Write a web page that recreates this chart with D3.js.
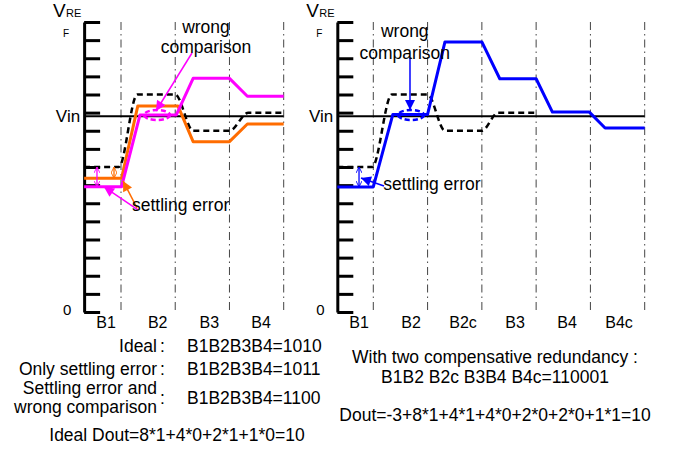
<!DOCTYPE html>
<html lang="en">
<head>
<meta charset="utf-8">
<script src="https://cdn.jsdelivr.net/npm/d3@7"></script>
<style>
body { margin: 0; background: #fff; }
text { font-family: "Liberation Sans", Arial, sans-serif; fill: #000; }
</style>
</head>
<body>
<svg width="673" height="452"></svg>
<script>
// levels are in LSB units (0 .. F=16), time in bit cycles (divider k sits at t = k)
var vin = 10.8;
var yTicks = [0, 1, 2, 3, 4, 5, 6, 7, 8, 9, 10, 11, 12, 13, 14, 15, 16];
var leftBits = ["B1", "B2", "B3", "B4"];
var rightBits = ["B1", "B2", "B2c", "B3", "B4", "B4c"];

var leftIdeal = [[0.32, 8], [0.96, 8], [1.3, 12], [2.0, 12], [2.33, 10], [3.0, 10], [3.35, 11], [4.0, 11]];
var leftSettle = [[0.32, 7.38], [1.01, 7.38], [1.31, 11.37], [2.05, 11.37], [2.33, 9.4], [3.0, 9.4], [3.33, 10.37], [4.0, 10.37]];
var leftWrong = [[0.32, 6.91], [1.01, 6.91], [1.35, 10.87], [2.02, 10.87], [2.33, 12.89], [3.0, 12.89], [3.33, 11.9], [4.0, 11.9]];

var rightIdeal = [[0.337, 8], [0.98, 8], [1.34, 12], [2.0, 12], [2.32, 10], [3.0, 10], [3.3, 11], [4.0, 11]];
var rightRedund = [[0.337, 6.9], [1.0, 6.9], [1.36, 10.9], [2.0, 10.9], [2.32, 14.9], [3.0, 14.9], [3.33, 12.87], [4.0, 12.87],
                   [4.3, 11.03], [4.98, 11.03], [5.27, 10.15], [6.0, 10.15]];

var leftCodes = [["Ideal", "B1B2B3B4=1010"], ["Only settling error", "B1B2B3B4=1011"], ["Settling error and|wrong comparison", "B1B2B3B4=1100"]];
var leftDout = "Ideal Dout=8*1+4*0+2*1+1*0=10";
var rightLines = ["With two compensative redundancy :", "B1B2 B2c B3B4 B4c=110001", "Dout=-3+8*1+4*1+4*0+2*0+2*0+1*1=10"];

var orange = "#ff6c00", magenta = "#ff00ff", blue = "#0000ff";

var svg = d3.select("svg");
var y = d3.scaleLinear().domain([0, 16]).range([312, 22]);

var defs = svg.append("defs");
[["orange", orange], ["magenta", magenta], ["blue", blue]].forEach(function (c) {
  defs.append("marker").attr("id", "tri-" + c[0])
    .attr("viewBox", "0 0 10 10").attr("refX", 10).attr("refY", 5)
    .attr("markerUnits", "userSpaceOnUse").attr("markerWidth", 12).attr("markerHeight", 10)
    .attr("orient", "auto")
    .append("path").attr("d", "M0,0L10,5L0,10z").attr("fill", c[1]);
  defs.append("marker").attr("id", "open-" + c[0])
    .attr("viewBox", "0 0 10 10").attr("refX", 10).attr("refY", 5)
    .attr("markerUnits", "userSpaceOnUse").attr("markerWidth", 6).attr("markerHeight", 6)
    .attr("orient", "auto-start-reverse")
    .append("path").attr("d", "M0,0L10,5L0,10").attr("fill", "none").attr("stroke", c[1]).attr("stroke-width", 1.5);
});

function drawPanel(p) {
  var n = p.bits.length;
  var x = d3.scaleLinear().domain([1, n]).range(p.xr);
  var ax = x(p.t0);
  var g = svg.append("g");
  var dividers = p.bits.map(function (b, i) { return i + 1; });

  g.selectAll(".divider").data(dividers).enter().append("line")
    .attr("class", "divider")
    .attr("x1", function (d) { return x(d); }).attr("x2", function (d) { return x(d); })
    .attr("y1", y(16)).attr("y2", y(0))
    .attr("stroke", "#444").attr("stroke-width", 1)
    .attr("stroke-dasharray", "8,4,1.5,4");

  g.append("line")
    .attr("x1", ax).attr("x2", x(n))
    .attr("y1", y(vin)).attr("y2", y(vin))
    .attr("stroke", "#000").attr("stroke-width", 2);

  var axis = g.append("g")
    .attr("transform", "translate(" + ax + ",0)")
    .call(d3.axisRight(y).tickValues(yTicks).tickSize(16).tickSizeOuter(0).tickFormat(""));
  axis.selectAll("line, path").attr("stroke", "#000").attr("stroke-width", 3);

  var straight = d3.line().x(function (d) { return x(d[0]); }).y(function (d) { return y(d[1]); });
  var smooth = d3.line().x(function (d) { return x(d[0]); }).y(function (d) { return y(d[1]); }).curve(d3.curveMonotoneX);

  g.append("path").attr("d", smooth(p.ideal))
    .attr("fill", "none").attr("stroke", "#000").attr("stroke-width", 2.5).attr("stroke-dasharray", "6,4");

  p.series.forEach(function (s) {
    g.append("path").attr("d", straight(s.data))
      .attr("fill", "none").attr("stroke", s.color).attr("stroke-width", 3).attr("stroke-linejoin", "round");
  });

  // highlight of the wrong comparison
  g.append("ellipse")
    .attr("cx", x(p.oval[0])).attr("cy", y(p.oval[1])).attr("rx", 13).attr("ry", 5)
    .attr("fill", "none").attr("stroke", p.ovalColor).attr("stroke-width", 2.5).attr("stroke-dasharray", "5,3");

  p.arrows.forEach(function (a) {
    g.append("line")
      .attr("x1", x(a.from[0])).attr("y1", y(a.from[1]))
      .attr("x2", x(a.to[0])).attr("y2", y(a.to[1]))
      .attr("stroke", a.color).attr("stroke-width", 1.5)
      .attr("marker-end", "url(#tri-" + a.name + ")");
  });

  p.spans.forEach(function (s) {
    g.append("line")
      .attr("x1", x(s.t)).attr("x2", x(s.t))
      .attr("y1", y(s.v0)).attr("y2", y(s.v1))
      .attr("stroke", s.color).attr("stroke-width", 1.3)
      .attr("marker-start", "url(#open-" + s.name + ")")
      .attr("marker-end", "url(#open-" + s.name + ")");
  });

  p.notes.forEach(function (t) {
    g.append("text").attr("x", x(t.t)).attr("y", y(t.v))
      .attr("text-anchor", t.anchor).style("font-size", "17.5px").text(t.text);
  });

  // bit labels under the axis
  var bx = d3.scalePoint().domain(p.bits).range(p.labelRange);
  g.selectAll(".bit").data(p.bits).enter().append("text")
    .attr("class", "bit")
    .attr("x", function (d) { return bx(d); }).attr("y", 328)
    .attr("text-anchor", "middle").style("font-size", "16px")
    .text(function (d) { return d; });

  // y axis labels
  g.append("text").attr("x", ax - 31).attr("y", 16.5).style("font-size", "19px").text("V");
  g.append("text").attr("x", ax - 18).attr("y", 16.5).style("font-size", "11px").text("RE");
  g.append("text").attr("x", ax - 21).attr("y", 37).style("font-size", "10px").text("F");
  g.append("text").attr("x", ax - 4).attr("y", y(vin) + 5.5).attr("text-anchor", "end").style("font-size", "17px").text("Vin");
  g.append("text").attr("x", ax - 21).attr("y", 315).style("font-size", "15px").text("0");
}

drawPanel({
  bits: leftBits, xr: [121, 283.7], t0: 0.32, labelRange: [106, 261],
  ideal: leftIdeal,
  series: [{ data: leftSettle, color: orange }, { data: leftWrong, color: magenta }],
  oval: [1.664, 10.87], ovalColor: magenta,
  arrows: [
    { from: [2.309, 14.29], to: [1.645, 11.09], color: magenta, name: "magenta" },
    { from: [1.313, 5.63], to: [0.687, 6.9], color: magenta, name: "magenta" },
    { from: [1.295, 5.74], to: [1.037, 7.23], color: orange, name: "orange" }
  ],
  spans: [
    { t: 0.557, v0: 8, v1: 6.91, color: magenta, name: "magenta" },
    { t: 0.871, v0: 8, v1: 7.38, color: orange, name: "orange" }
  ],
  notes: [
    { t: 2.567, v: 15.39, text: "wrong", anchor: "middle" },
    { t: 2.567, v: 14.27, text: "comparison", anchor: "middle" },
    { t: 1.203, v: 5.57, text: "settling error", anchor: "start" }
  ]
});

drawPanel({
  bits: rightBits, xr: [373.3, 644.7], t0: 0.337, labelRange: [359, 619],
  ideal: rightIdeal,
  series: [{ data: rightRedund, color: blue }],
  oval: [1.695, 10.87], ovalColor: blue,
  arrows: [
    { from: [1.676, 14.01], to: [1.676, 11.14], color: blue, name: "blue" },
    { from: [1.197, 6.95], to: [0.773, 7.39], color: blue, name: "blue" }
  ],
  spans: [
    { t: 0.737, v0: 8, v1: 6.9, color: blue, name: "blue" }
  ],
  notes: [
    { t: 1.58, v: 15.16, text: "wrong", anchor: "middle" },
    { t: 1.58, v: 13.94, text: "comparison", anchor: "middle" },
    { t: 1.184, v: 6.73, text: "settling error", anchor: "start" }
  ]
});

// code summaries below the plots
var rows = [351.5, 374.5, 404];
leftCodes.forEach(function (c, i) {
  var parts = c[0].split("|");
  if (parts.length == 1) {
    svg.append("text").attr("x", 157).attr("y", rows[i]).attr("text-anchor", "end").style("font-size", "17.5px").text(parts[0]);
    svg.append("text").attr("x", 160).attr("y", rows[i]).style("font-size", "17.5px").text(":");
  } else {
    svg.append("text").attr("x", 157).attr("y", 394).attr("text-anchor", "end").style("font-size", "17.5px").text(parts[0]);
    svg.append("text").attr("x", 157).attr("y", 412.5).attr("text-anchor", "end").style("font-size", "17.5px").text(parts[1]);
    svg.append("text").attr("x", 160).attr("y", 404).style("font-size", "17.5px").text(":");
  }
  svg.append("text").attr("x", 187).attr("y", rows[i]).style("font-size", "17.5px").text(c[1]);
});
svg.append("text").attr("x", 177).attr("y", 441).attr("text-anchor", "middle").style("font-size", "17.5px").text(leftDout);

var rightRows = [362.5, 383, 421];
rightLines.forEach(function (t, i) {
  svg.append("text").attr("x", 495).attr("y", rightRows[i]).attr("text-anchor", "middle").style("font-size", "17.5px").text(t);
});
</script>
</body>
</html>
